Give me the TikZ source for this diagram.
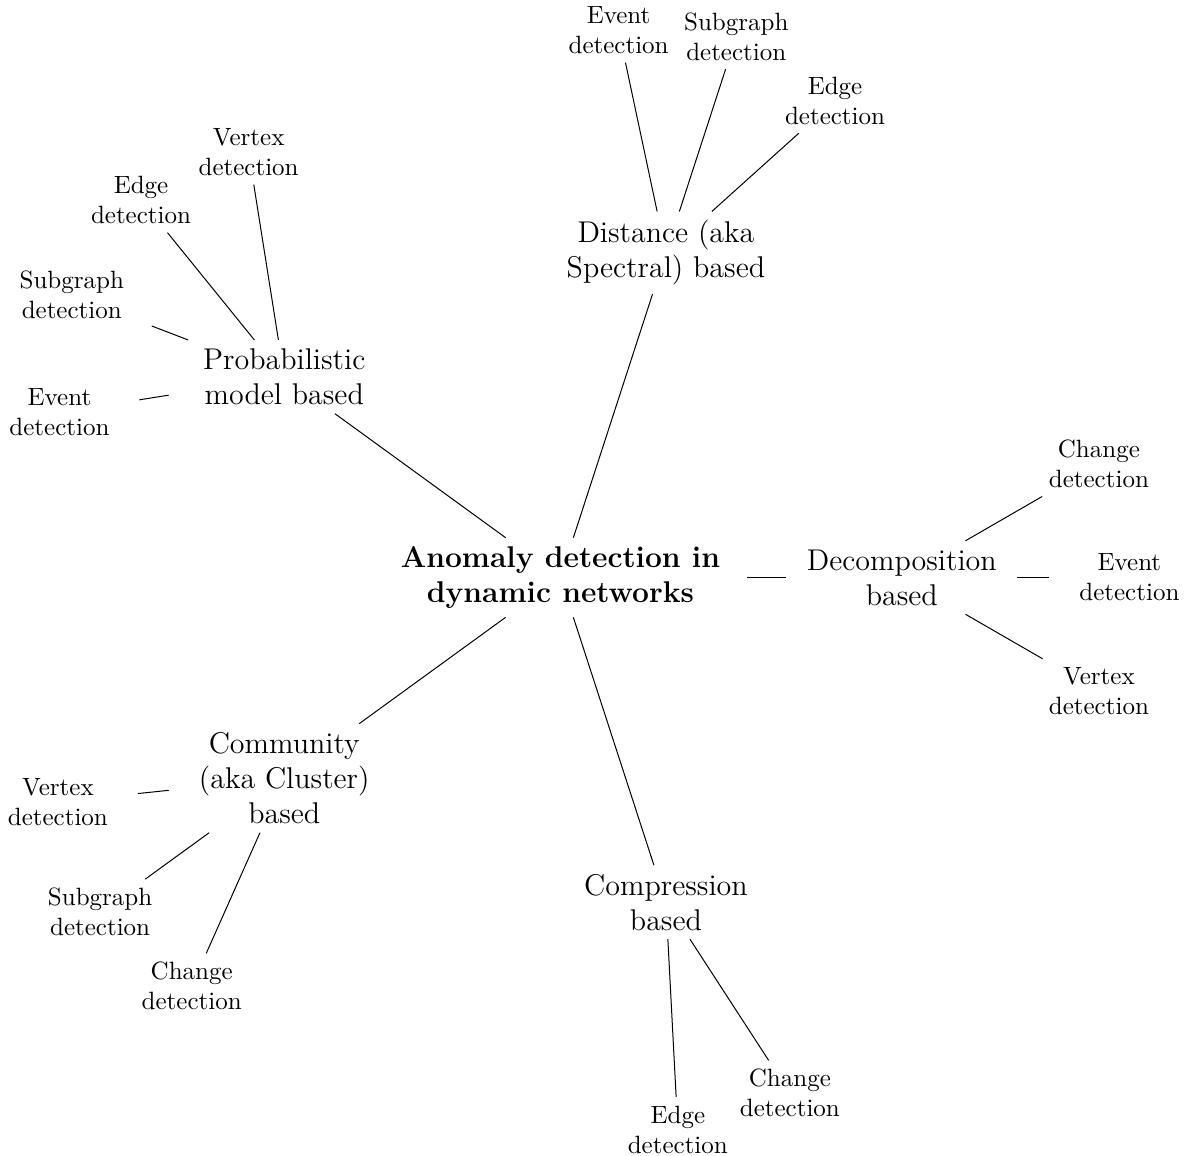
\documentclass[tikz,border=0pt]{standalone}
\usepackage{tikz}
\usetikzlibrary{calc}

\begin{document}
\begin{tikzpicture}[
  hub/.style={text width=5cm, align=flush center, font=\large\bfseries},
  method/.style={text width=3cm, align=flush center, font=\large},
  task/.style={text width=2cm, align=flush center}]
\useasboundingbox (-7.88,-8.12) rectangle (8.88,8.12);

\node[hub] (A) at (0,0) {Anomaly detection in dynamic networks};

\node[method] (B) at (72:4.8cm) {Distance (aka Spectral) based};
\node[method] (C) at (144:4.8cm) {Probabilistic model based};
\node[method] (D) at (0:4.8cm) {Decomposition based};
\node[method] (E) at (216:4.8cm) {Community (aka Cluster) based};
\node[method] (F) at (288:4.8cm) {Compression based};

\node[task] (B1) at ($(B)+(102:3.2cm)$) {Event detection};
\node[task] (B2) at ($(B)+(72:3.2cm)$) {Subgraph detection};
\node[task] (B3) at ($(B)+(42:3.2cm)$) {Edge detection};

\node[task] (C1) at ($(C)+(99:3.2cm)$) {Vertex detection};
\node[task] (C2) at ($(C)+(129:3.2cm)$) {Edge detection};
\node[task] (C3) at ($(C)+(159:3.2cm)$) {Subgraph detection};
\node[task] (C4) at ($(C)+(189:3.2cm)$) {Event detection};

\node[task] (D1) at ($(D)+(30:3.2cm)$) {Change detection};
\node[task] (D2) at ($(D)+(0:3.2cm)$) {Event detection};
\node[task] (D3) at ($(D)+(-30:3.2cm)$) {Vertex detection};

\node[task] (E1) at ($(E)+(186:3.2cm)$) {Vertex detection};
\node[task] (E2) at ($(E)+(216:3.2cm)$) {Subgraph detection};
\node[task] (E3) at ($(E)+(246:3.2cm)$) {Change detection};

\node[task] (F1) at ($(F)+(273:3.2cm)$) {Edge detection};
\node[task] (F2) at ($(F)+(303:3.2cm)$) {Change detection};

\draw (A) -- (B);
\draw (A) -- (C);
\draw (A) -- (D);
\draw (A) -- (E);
\draw (A) -- (F);

\draw (B) -- (B1);
\draw (B) -- (B2);
\draw (B) -- (B3);
\draw (C) -- (C1);
\draw (C) -- (C2);
\draw (C) -- (C3);
\draw (C) -- (C4);
\draw (D) -- (D1);
\draw (D) -- (D2);
\draw (D) -- (D3);
\draw (E) -- (E1);
\draw (E) -- (E2);
\draw (E) -- (E3);
\draw (F) -- (F1);
\draw (F) -- (F2);
\end{tikzpicture}
\end{document}
